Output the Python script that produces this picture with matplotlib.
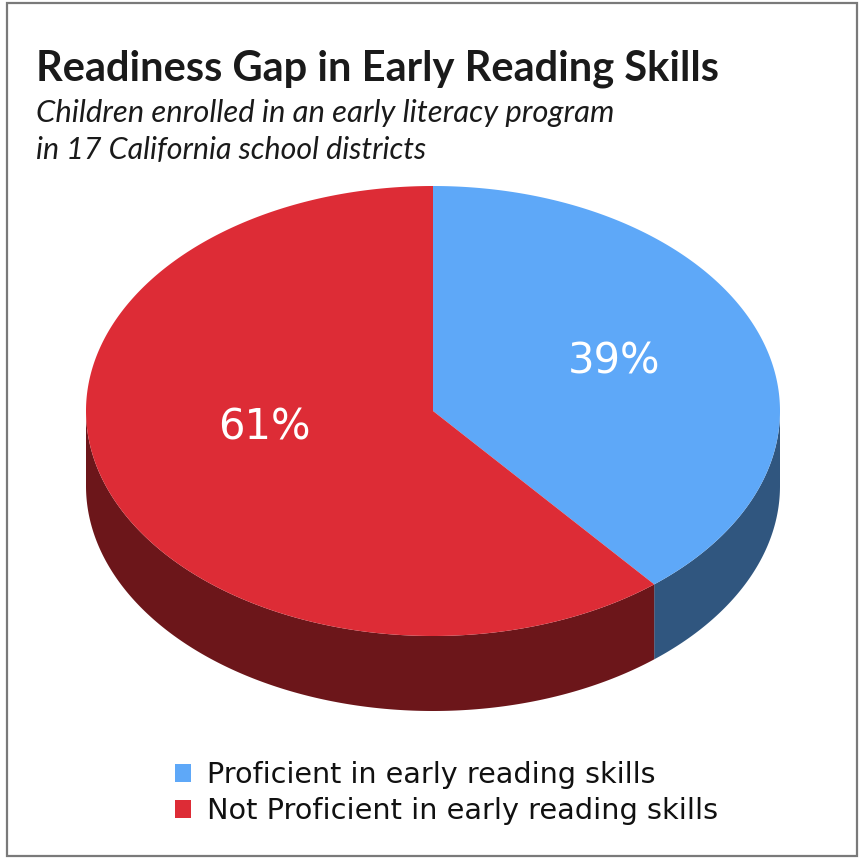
import numpy as np
import matplotlib
matplotlib.use("Agg")
import matplotlib.pyplot as plt
from matplotlib.patches import Polygon, Rectangle

title = "Readiness Gap in Early Reading Skills"
subtitle = ["Children enrolled in an early literacy program",
            "in 17 California school districts"]
categories = ["Proficient in early reading skills",
              "Not Proficient in early reading skills"]
values = [39, 61]
top_colors = ["#5ea8f8", "#dd2c36"]
side_colors = ["#30567f", "#6c161a"]

W, H = 860, 862
fig = plt.figure(figsize=(W / 100, H / 100), dpi=100)
ax = fig.add_axes([0, 0, 1, 1])
ax.set_xlim(0, W)
ax.set_ylim(H, 0)
ax.axis("off")
renderer = fig.canvas.get_renderer()


def fit_text(x, y, s, target_w, size, **kw):
    t = ax.text(x, y, s, fontsize=size, **kw)
    w = t.get_window_extent(renderer).width
    t.set_fontsize(size * target_w / w)
    return t


# frame
ax.add_patch(Rectangle((7, 4), 850, 853, fill=False, ec="#7a7a7a", lw=1.6))

# 3D pie geometry
cx, cy, a, b, depth = 433, 412, 347, 225, 75


def pt(theta_deg, dy=0):
    t = np.radians(theta_deg)
    return cx + a * np.sin(t), cy - b * np.cos(t) + dy


fracs = np.array(values, dtype=float) / sum(values)
starts = np.concatenate([[0], np.cumsum(fracs)[:-1]]) * 360
ends = np.cumsum(fracs) * 360

# side walls (visible front: 90..270)
for s, e, col in zip(starts, ends, side_colors):
    lo, hi = max(s, 90), min(e, 270)
    if hi <= lo:
        continue
    th = np.linspace(lo, hi, 200)
    top = [pt(t) for t in th]
    bot = [pt(t, depth) for t in th[::-1]]
    ax.add_patch(Polygon(top + bot, closed=True, fc=col, ec="none"))

# top surfaces
for s, e, col in zip(starts, ends, top_colors):
    th = np.linspace(s, e, 400)
    poly = [(cx, cy)] + [pt(t) for t in th]
    ax.add_patch(Polygon(poly, closed=True, fc=col, ec="none"))

# labels
label_pos = [(614, 362), (264, 428)]
for v, (x, y) in zip(values, label_pos):
    ax.text(x, y, f"{v}%", color="white", fontsize=30, ha="center", va="center",
            family="DejaVu Sans")

# title
fit_text(36, 80, title, 683, 30, fontweight="bold", ha="left", va="baseline",
         family=["Lato", "DejaVu Sans"], color="#1a1a1a")
sub_base = [122, 159]
sub_w = [576, 389]
for line, yb, w in zip(subtitle, sub_base, sub_w):
    fit_text(36, yb, line, w, 22, style="italic", ha="left", va="baseline",
             family=["Lato", "DejaVu Sans"], color="#1a1a1a")

# legend
leg_w = [448, 508]
for i, (cat, col, w) in enumerate(zip(categories, top_colors, leg_w)):
    y = 774 + 36 * i
    ax.add_patch(Rectangle((175, y - 9), 16, 18, fc=col, ec="none"))
    fit_text(207, y + 1, cat, w, 20, ha="left", va="center",
             family="DejaVu Sans", color="#111111")

fig.savefig("out.png", dpi=100)
